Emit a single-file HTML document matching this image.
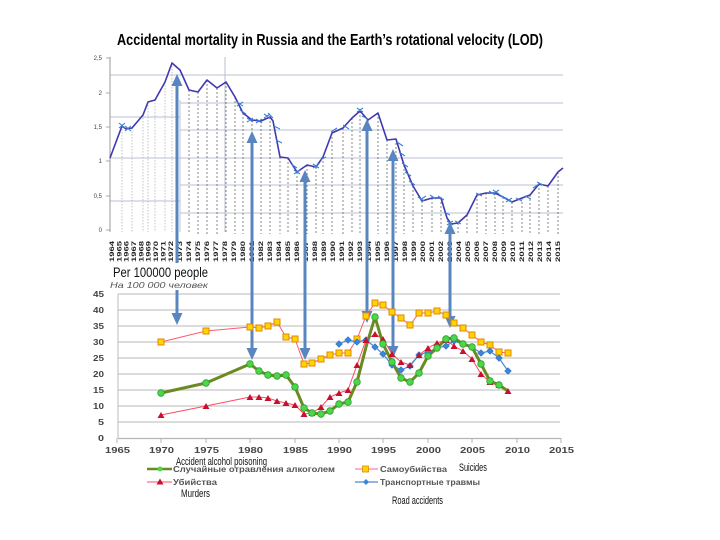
<!DOCTYPE html>
<html><head><meta charset="utf-8"><style>
html,body{margin:0;padding:0;background:#fff;}
svg{display:block;}
text{font-family:"Liberation Sans","DejaVu Sans",sans-serif;}
</style></head><body>
<svg width="720" height="540" viewBox="0 0 720 540" xmlns="http://www.w3.org/2000/svg">
<rect width="720" height="540" fill="#fff"/>
<text x="117" y="45" font-size="16" font-weight="bold" fill="#000" textLength="426" lengthAdjust="spacingAndGlyphs">Accidental mortality in Russia and the Earth’s rotational velocity (LOD)</text>
<g stroke="#b9c2d2" stroke-width="1" fill="none">
<line x1="110" y1="75" x2="563" y2="75"/><line x1="180" y1="103" x2="563" y2="103"/><line x1="110" y1="117" x2="180" y2="117"/><line x1="180" y1="130" x2="563" y2="130"/><line x1="110" y1="158" x2="563" y2="158"/><line x1="180" y1="185" x2="563" y2="185"/><line x1="110" y1="201" x2="180" y2="201"/><line x1="180" y1="213" x2="563" y2="213"/><line x1="225" y1="57" x2="225" y2="232"/><line x1="180" y1="100" x2="180" y2="232"/>
</g>
<line x1="110" y1="57" x2="110" y2="232" stroke="#999" stroke-width="1"/>
<g stroke="#999" stroke-width="0.8"><line x1="106" y1="58" x2="110" y2="58"/><line x1="106" y1="93" x2="110" y2="93"/><line x1="106" y1="127" x2="110" y2="127"/><line x1="106" y1="161" x2="110" y2="161"/><line x1="106" y1="196" x2="110" y2="196"/><line x1="106" y1="230" x2="110" y2="230"/></g>
<g font-size="6" fill="#444" text-anchor="end"><text x="102" y="60">2,5</text><text x="102" y="95">2</text><text x="102" y="129">1,5</text><text x="102" y="163">1</text><text x="102" y="198">0,5</text><text x="102" y="232">0</text></g>
<g stroke="#aaa" stroke-width="0.7" stroke-dasharray="1.5,1.5"><line x1="122" y1="126" x2="122" y2="232"/><line x1="132" y1="128" x2="132" y2="232"/><line x1="143" y1="115" x2="143" y2="232"/><line x1="148" y1="102" x2="148" y2="232"/><line x1="155" y1="100" x2="155" y2="232"/><line x1="165" y1="82" x2="165" y2="232"/><line x1="172" y1="63" x2="172" y2="232"/></g>
<g stroke="#555" stroke-width="0.7" stroke-dasharray="2,2"><line x1="189" y1="90" x2="189" y2="234"/><line x1="198" y1="92" x2="198" y2="234"/><line x1="207" y1="80" x2="207" y2="234"/><line x1="217" y1="88" x2="217" y2="234"/><line x1="226" y1="82" x2="226" y2="234"/><line x1="235" y1="97" x2="235" y2="234"/><line x1="243" y1="113" x2="243" y2="234"/><line x1="252" y1="120" x2="252" y2="234"/><line x1="261" y1="121" x2="261" y2="234"/><line x1="270" y1="117" x2="270" y2="234"/><line x1="280" y1="157" x2="280" y2="234"/><line x1="288" y1="158" x2="288" y2="234"/><line x1="297" y1="172" x2="297" y2="234"/><line x1="307" y1="165" x2="307" y2="234"/><line x1="316" y1="167" x2="316" y2="234"/><line x1="323" y1="157" x2="323" y2="234"/><line x1="332" y1="133" x2="332" y2="234"/><line x1="343" y1="128" x2="343" y2="234"/><line x1="352" y1="118" x2="352" y2="234"/><line x1="360" y1="111" x2="360" y2="234"/><line x1="368" y1="120" x2="368" y2="234"/><line x1="378" y1="113" x2="378" y2="234"/><line x1="387" y1="140" x2="387" y2="234"/><line x1="396" y1="139" x2="396" y2="234"/><line x1="404" y1="165" x2="404" y2="234"/><line x1="413" y1="186" x2="413" y2="234"/><line x1="422" y1="201" x2="422" y2="234"/><line x1="432" y1="198" x2="432" y2="234"/><line x1="441" y1="198" x2="441" y2="234"/><line x1="451" y1="224" x2="451" y2="234"/><line x1="458" y1="223" x2="458" y2="234"/><line x1="467" y1="215" x2="467" y2="234"/><line x1="477" y1="195" x2="477" y2="234"/><line x1="486" y1="193" x2="486" y2="234"/><line x1="495" y1="193" x2="495" y2="234"/><line x1="503" y1="197" x2="503" y2="234"/><line x1="512" y1="202" x2="512" y2="234"/><line x1="522" y1="198" x2="522" y2="234"/><line x1="530" y1="195" x2="530" y2="234"/><line x1="539" y1="184" x2="539" y2="234"/><line x1="548" y1="186" x2="548" y2="234"/><line x1="558" y1="172" x2="558" y2="234"/></g>
<polyline fill="none" stroke="#4038b0" stroke-width="1.6" stroke-linejoin="round" points="110,158 122,126 126,129 132,128 143,115 148,102 155,100 165,82 172,63 180,70 189,90 198,92 207,80 217,88 226,82 235,97 243,113 252,120 261,121 270,117 273,121 280,157 288,158 297,172 307,165 316,167 323,157 332,133 343,128 352,118 360,111 368,120 378,113 387,140 396,139 404,165 413,186 422,201 432,198 441,198 447,218 451,224 458,223 467,215 477,195 486,193 495,193 503,197 512,202 522,198 530,195 539,184 548,186 558,172 563,168"/>
<g stroke="#3b82d4" stroke-width="1.1"><path d="M119,123l6,5M119,128l6,-5M125,126l6,5M125,131l6,-5M237,102l6,4M237,106l6,-4M240,110l6,4M247,118l6,4M247,122l6,-4M256,119l6,4M256,123l6,-4M264,114l6,4M264,118l6,-4M268,113l5,5M274,126l6,3M276,140l6,3M291,164l6,4M294,170l6,4M294,174l6,-4M313,164l6,4M313,168l6,-4M320,160l6,-3M331,132l6,-4M343,125l6,4M357,108l6,4M357,112l6,-4M362,116l6,3M397,142l6,4M399,152l6,4M402,163l6,4M405,172l6,4M409,181l6,4M418,197l6,4M420,200l6,-4M430,195l6,4M438,196l6,4M444,212l6,3M447,221l6,4M447,225l6,-4M455,221l6,3M476,193l6,3M489,191l6,4M493,190l6,4M493,194l6,-4M500,195l6,4M506,198l6,4M506,202l6,-4M516,198l6,3M525,196l6,3M533,188l6,-4M537,182l6,3"/></g>
<g font-size="6.5" font-weight="bold" fill="#222">
<text transform="translate(114,262) rotate(-90)" textLength="21" lengthAdjust="spacingAndGlyphs">1964</text><text transform="translate(121.4,262) rotate(-90)" textLength="21" lengthAdjust="spacingAndGlyphs">1965</text><text transform="translate(128.7,262) rotate(-90)" textLength="21" lengthAdjust="spacingAndGlyphs">1966</text><text transform="translate(136,262) rotate(-90)" textLength="21" lengthAdjust="spacingAndGlyphs">1967</text><text transform="translate(143.4,262) rotate(-90)" textLength="21" lengthAdjust="spacingAndGlyphs">1968</text><text transform="translate(150.7,262) rotate(-90)" textLength="21" lengthAdjust="spacingAndGlyphs">1969</text><text transform="translate(158,262) rotate(-90)" textLength="21" lengthAdjust="spacingAndGlyphs">1970</text><text transform="translate(165.5,262) rotate(-90)" textLength="21" lengthAdjust="spacingAndGlyphs">1971</text><text transform="translate(172.8,262) rotate(-90)" textLength="21" lengthAdjust="spacingAndGlyphs">1972</text><text transform="translate(182,262) rotate(-90)" textLength="21" lengthAdjust="spacingAndGlyphs">1973</text><text transform="translate(191,262) rotate(-90)" textLength="21" lengthAdjust="spacingAndGlyphs">1974</text><text transform="translate(200,262) rotate(-90)" textLength="21" lengthAdjust="spacingAndGlyphs">1975</text><text transform="translate(209,262) rotate(-90)" textLength="21" lengthAdjust="spacingAndGlyphs">1976</text><text transform="translate(218,262) rotate(-90)" textLength="21" lengthAdjust="spacingAndGlyphs">1977</text><text transform="translate(227,262) rotate(-90)" textLength="21" lengthAdjust="spacingAndGlyphs">1978</text><text transform="translate(236,262) rotate(-90)" textLength="21" lengthAdjust="spacingAndGlyphs">1979</text><text transform="translate(245,262) rotate(-90)" textLength="21" lengthAdjust="spacingAndGlyphs">1980</text><text transform="translate(254,262) rotate(-90)" textLength="21" lengthAdjust="spacingAndGlyphs">1981</text><text transform="translate(263,262) rotate(-90)" textLength="21" lengthAdjust="spacingAndGlyphs">1982</text><text transform="translate(272,262) rotate(-90)" textLength="21" lengthAdjust="spacingAndGlyphs">1983</text><text transform="translate(281,262) rotate(-90)" textLength="21" lengthAdjust="spacingAndGlyphs">1984</text><text transform="translate(290,262) rotate(-90)" textLength="21" lengthAdjust="spacingAndGlyphs">1985</text><text transform="translate(299,262) rotate(-90)" textLength="21" lengthAdjust="spacingAndGlyphs">1986</text><text transform="translate(308,262) rotate(-90)" textLength="21" lengthAdjust="spacingAndGlyphs">1987</text><text transform="translate(317,262) rotate(-90)" textLength="21" lengthAdjust="spacingAndGlyphs">1988</text><text transform="translate(326,262) rotate(-90)" textLength="21" lengthAdjust="spacingAndGlyphs">1989</text><text transform="translate(335,262) rotate(-90)" textLength="21" lengthAdjust="spacingAndGlyphs">1990</text><text transform="translate(344,262) rotate(-90)" textLength="21" lengthAdjust="spacingAndGlyphs">1991</text><text transform="translate(353,262) rotate(-90)" textLength="21" lengthAdjust="spacingAndGlyphs">1992</text><text transform="translate(362,262) rotate(-90)" textLength="21" lengthAdjust="spacingAndGlyphs">1993</text><text transform="translate(371,262) rotate(-90)" textLength="21" lengthAdjust="spacingAndGlyphs">1994</text><text transform="translate(380,262) rotate(-90)" textLength="21" lengthAdjust="spacingAndGlyphs">1995</text><text transform="translate(389,262) rotate(-90)" textLength="21" lengthAdjust="spacingAndGlyphs">1996</text><text transform="translate(398,262) rotate(-90)" textLength="21" lengthAdjust="spacingAndGlyphs">1997</text><text transform="translate(407,262) rotate(-90)" textLength="21" lengthAdjust="spacingAndGlyphs">1998</text><text transform="translate(416,262) rotate(-90)" textLength="21" lengthAdjust="spacingAndGlyphs">1999</text><text transform="translate(425,262) rotate(-90)" textLength="21" lengthAdjust="spacingAndGlyphs">2000</text><text transform="translate(434,262) rotate(-90)" textLength="21" lengthAdjust="spacingAndGlyphs">2001</text><text transform="translate(443,262) rotate(-90)" textLength="21" lengthAdjust="spacingAndGlyphs">2002</text><text transform="translate(452,262) rotate(-90)" textLength="21" lengthAdjust="spacingAndGlyphs">2003</text><text transform="translate(461,262) rotate(-90)" textLength="21" lengthAdjust="spacingAndGlyphs">2004</text><text transform="translate(470,262) rotate(-90)" textLength="21" lengthAdjust="spacingAndGlyphs">2005</text><text transform="translate(479,262) rotate(-90)" textLength="21" lengthAdjust="spacingAndGlyphs">2006</text><text transform="translate(488,262) rotate(-90)" textLength="21" lengthAdjust="spacingAndGlyphs">2007</text><text transform="translate(497,262) rotate(-90)" textLength="21" lengthAdjust="spacingAndGlyphs">2008</text><text transform="translate(506,262) rotate(-90)" textLength="21" lengthAdjust="spacingAndGlyphs">2009</text><text transform="translate(515,262) rotate(-90)" textLength="21" lengthAdjust="spacingAndGlyphs">2010</text><text transform="translate(524,262) rotate(-90)" textLength="21" lengthAdjust="spacingAndGlyphs">2011</text><text transform="translate(533,262) rotate(-90)" textLength="21" lengthAdjust="spacingAndGlyphs">2012</text><text transform="translate(542,262) rotate(-90)" textLength="21" lengthAdjust="spacingAndGlyphs">2013</text><text transform="translate(551,262) rotate(-90)" textLength="21" lengthAdjust="spacingAndGlyphs">2014</text><text transform="translate(560,262) rotate(-90)" textLength="21" lengthAdjust="spacingAndGlyphs">2015</text>
</g>
<g stroke="#c8c8c8" stroke-width="1.3"><line x1="118" y1="294" x2="560" y2="294"/><line x1="118" y1="310" x2="560" y2="310"/><line x1="118" y1="326" x2="560" y2="326"/><line x1="118" y1="342" x2="560" y2="342"/><line x1="118" y1="358" x2="560" y2="358"/><line x1="118" y1="374" x2="560" y2="374"/><line x1="118" y1="390" x2="560" y2="390"/><line x1="118" y1="406" x2="560" y2="406"/><line x1="118" y1="422" x2="560" y2="422"/></g>
<line x1="118" y1="294" x2="118" y2="438" stroke="#bbb" stroke-width="1"/>
<line x1="118" y1="438.5" x2="561" y2="438.5" stroke="#b5b5b5" stroke-width="1.3"/>
<g stroke="#b5b5b5" stroke-width="1"><line x1="117" y1="438" x2="117" y2="443"/><line x1="161" y1="438" x2="161" y2="443"/><line x1="206" y1="438" x2="206" y2="443"/><line x1="250" y1="438" x2="250" y2="443"/><line x1="295" y1="438" x2="295" y2="443"/><line x1="339" y1="438" x2="339" y2="443"/><line x1="383" y1="438" x2="383" y2="443"/><line x1="428" y1="438" x2="428" y2="443"/><line x1="472" y1="438" x2="472" y2="443"/><line x1="517" y1="438" x2="517" y2="443"/><line x1="561" y1="438" x2="561" y2="443"/></g>
<g font-size="8" font-weight="bold" fill="#444" text-anchor="end"><text x="104" y="297" textLength="11" lengthAdjust="spacingAndGlyphs">45</text><text x="104" y="313" textLength="11" lengthAdjust="spacingAndGlyphs">40</text><text x="104" y="329" textLength="11" lengthAdjust="spacingAndGlyphs">35</text><text x="104" y="345" textLength="11" lengthAdjust="spacingAndGlyphs">30</text><text x="104" y="361" textLength="11" lengthAdjust="spacingAndGlyphs">25</text><text x="104" y="377" textLength="11" lengthAdjust="spacingAndGlyphs">20</text><text x="104" y="393" textLength="11" lengthAdjust="spacingAndGlyphs">15</text><text x="104" y="409" textLength="11" lengthAdjust="spacingAndGlyphs">10</text><text x="104" y="425" textLength="6" lengthAdjust="spacingAndGlyphs">5</text><text x="104" y="441" textLength="6" lengthAdjust="spacingAndGlyphs">0</text></g>
<g font-size="8" font-weight="bold" fill="#444"><text x="105" y="453" textLength="25" lengthAdjust="spacingAndGlyphs">1965</text><text x="149" y="453" textLength="25" lengthAdjust="spacingAndGlyphs">1970</text><text x="194" y="453" textLength="25" lengthAdjust="spacingAndGlyphs">1975</text><text x="238" y="453" textLength="25" lengthAdjust="spacingAndGlyphs">1980</text><text x="283" y="453" textLength="25" lengthAdjust="spacingAndGlyphs">1985</text><text x="327" y="453" textLength="25" lengthAdjust="spacingAndGlyphs">1990</text><text x="371" y="453" textLength="25" lengthAdjust="spacingAndGlyphs">1995</text><text x="416" y="453" textLength="25" lengthAdjust="spacingAndGlyphs">2000</text><text x="460" y="453" textLength="25" lengthAdjust="spacingAndGlyphs">2005</text><text x="505" y="453" textLength="25" lengthAdjust="spacingAndGlyphs">2010</text><text x="549" y="453" textLength="25" lengthAdjust="spacingAndGlyphs">2015</text></g>
<g fill="#5a86bf" stroke="none">
<rect x="175.5" y="83" width="3" height="231"/><polygon points="177,74 171.5,86 182.5,86"/><polygon points="177,325 171.5,313 182.5,313"/>
<rect x="250.5" y="140" width="3" height="210"/><polygon points="252,131 246.5,143 257.5,143"/><polygon points="252,360 246.5,348 257.5,348"/>
<rect x="303.5" y="179" width="3" height="171"/><polygon points="305,170 299.5,182 310.5,182"/><polygon points="305,360 299.5,348 310.5,348"/>
<rect x="365.5" y="128" width="3" height="184"/><polygon points="367,119 361.5,131 372.5,131"/><polygon points="367,323 361.5,311 372.5,311"/>
<rect x="391.5" y="158" width="3" height="189"/><polygon points="393,149 387.5,161 398.5,161"/><polygon points="393,358 387.5,346 398.5,346"/>
<rect x="448.5" y="231" width="3" height="86"/><polygon points="450,222 444.5,234 455.5,234"/><polygon points="450,328 444.5,316 455.5,316"/>
</g>
<rect x="110" y="263" width="100" height="27" fill="#fff"/>
<text x="113" y="277" font-size="14" fill="#111" textLength="95" lengthAdjust="spacingAndGlyphs">Per 100000 people</text>
<text x="110" y="288" font-size="8" font-style="italic" fill="#555" textLength="98" lengthAdjust="spacingAndGlyphs">На 100 000 человек</text>
<polyline fill="none" stroke="#ff5a6e" stroke-width="1" points="161,342 206,331 250,327 259,328 268,326 277,322 286,337 295,339 304,364 312,363 321,359 330,355 339,353 348,353 357,339 366,316 375,303 383,305 392,312 401,318 410,325 419,313 428,313 437,311 446,315 454,323 463,328 472,335 481,342 490,345 499,352 508,353"/>
<polyline fill="none" stroke="#ff4a64" stroke-width="1" points="161,415 206,406 250,397 259,397 268,398 277,401 286,403 295,405 304,414 312,413 321,407 330,397 339,393 348,390 357,365 366,340 375,334 383,339 392,354 401,362 410,365 419,355 428,348 437,343 446,340 454,346 463,351 472,359 481,374 490,382 499,385 508,391"/>
<polyline fill="none" stroke="#4a8ad4" stroke-width="1.2" points="339,344 348,340 357,342 366,340 375,347 383,354 392,365 401,370 410,366 419,355 428,352 437,348 446,346 454,341 463,344 472,347 481,353 490,351 499,358 508,371"/>
<polyline fill="none" stroke="#6b8a22" stroke-width="3" stroke-linejoin="round" points="161,393 206,383 250,364 259,371 268,375 277,376 286,375 295,387 304,408 312,413 321,414 330,411 339,404 348,402 357,382 366,347 375,317 383,344 392,362 401,378 410,382 419,373 428,356 437,348 446,339 454,338 463,344 472,347 481,364 490,381 499,385 508,391"/>
<g fill="#ffd400" stroke="#e08a00" stroke-width="1">
<rect x="158" y="339" width="6" height="6"/><rect x="203" y="328" width="6" height="6"/><rect x="247" y="324" width="6" height="6"/><rect x="256" y="325" width="6" height="6"/><rect x="265" y="323" width="6" height="6"/><rect x="274" y="319" width="6" height="6"/><rect x="283" y="334" width="6" height="6"/><rect x="292" y="336" width="6" height="6"/><rect x="301" y="361" width="6" height="6"/><rect x="309" y="360" width="6" height="6"/><rect x="318" y="356" width="6" height="6"/><rect x="327" y="352" width="6" height="6"/><rect x="336" y="350" width="6" height="6"/><rect x="345" y="350" width="6" height="6"/><rect x="354" y="336" width="6" height="6"/><rect x="363" y="313" width="6" height="6"/><rect x="372" y="300" width="6" height="6"/><rect x="380" y="302" width="6" height="6"/><rect x="389" y="309" width="6" height="6"/><rect x="398" y="315" width="6" height="6"/><rect x="407" y="322" width="6" height="6"/><rect x="416" y="310" width="6" height="6"/><rect x="425" y="310" width="6" height="6"/><rect x="434" y="308" width="6" height="6"/><rect x="443" y="312" width="6" height="6"/><rect x="451" y="320" width="6" height="6"/><rect x="460" y="325" width="6" height="6"/><rect x="469" y="332" width="6" height="6"/><rect x="478" y="339" width="6" height="6"/><rect x="487" y="342" width="6" height="6"/><rect x="496" y="349" width="6" height="6"/><rect x="505" y="350" width="6" height="6"/>
</g>
<g fill="#3d85d8" stroke="#2f6fb8" stroke-width="0.5">
<polygon points="339,340.5 342.5,344 339,347.5 335.5,344"/><polygon points="348,336.5 351.5,340 348,343.5 344.5,340"/><polygon points="357,338.5 360.5,342 357,345.5 353.5,342"/><polygon points="366,336.5 369.5,340 366,343.5 362.5,340"/><polygon points="375,343.5 378.5,347 375,350.5 371.5,347"/><polygon points="383,350.5 386.5,354 383,357.5 379.5,354"/><polygon points="392,361.5 395.5,365 392,368.5 388.5,365"/><polygon points="401,366.5 404.5,370 401,373.5 397.5,370"/><polygon points="410,362.5 413.5,366 410,369.5 406.5,366"/><polygon points="419,351.5 422.5,355 419,358.5 415.5,355"/><polygon points="428,348.5 431.5,352 428,355.5 424.5,352"/><polygon points="437,344.5 440.5,348 437,351.5 433.5,348"/><polygon points="446,342.5 449.5,346 446,349.5 442.5,346"/><polygon points="454,337.5 457.5,341 454,344.5 450.5,341"/><polygon points="463,340.5 466.5,344 463,347.5 459.5,344"/><polygon points="472,343.5 475.5,347 472,350.5 468.5,347"/><polygon points="481,349.5 484.5,353 481,356.5 477.5,353"/><polygon points="490,347.5 493.5,351 490,354.5 486.5,351"/><polygon points="499,354.5 502.5,358 499,361.5 495.5,358"/><polygon points="508,367.5 511.5,371 508,374.5 504.5,371"/>
</g>
<g fill="#c8102e">
<polygon points="161,412 164.5,418 157.5,418"/><polygon points="206,403 209.5,409 202.5,409"/><polygon points="250,394 253.5,400 246.5,400"/><polygon points="259,394 262.5,400 255.5,400"/><polygon points="268,395 271.5,401 264.5,401"/><polygon points="277,398 280.5,404 273.5,404"/><polygon points="286,400 289.5,406 282.5,406"/><polygon points="295,402 298.5,408 291.5,408"/><polygon points="304,411 307.5,417 300.5,417"/><polygon points="312,410 315.5,416 308.5,416"/><polygon points="321,404 324.5,410 317.5,410"/><polygon points="330,394 333.5,400 326.5,400"/><polygon points="339,390 342.5,396 335.5,396"/><polygon points="348,387 351.5,393 344.5,393"/><polygon points="357,362 360.5,368 353.5,368"/><polygon points="366,337 369.5,343 362.5,343"/><polygon points="375,331 378.5,337 371.5,337"/><polygon points="383,336 386.5,342 379.5,342"/><polygon points="392,351 395.5,357 388.5,357"/><polygon points="401,359 404.5,365 397.5,365"/><polygon points="410,362 413.5,368 406.5,368"/><polygon points="419,352 422.5,358 415.5,358"/><polygon points="428,345 431.5,351 424.5,351"/><polygon points="437,340 440.5,346 433.5,346"/><polygon points="446,337 449.5,343 442.5,343"/><polygon points="454,343 457.5,349 450.5,349"/><polygon points="463,348 466.5,354 459.5,354"/><polygon points="472,356 475.5,362 468.5,362"/><polygon points="481,371 484.5,377 477.5,377"/><polygon points="490,379 493.5,385 486.5,385"/><polygon points="499,382 502.5,388 495.5,388"/><polygon points="508,388 511.5,394 504.5,394"/>
</g>
<g fill="#4ad84a" stroke="#2e9e2e" stroke-width="0.8">
<circle cx="161" cy="393" r="3.3"/><circle cx="206" cy="383" r="3.3"/><circle cx="250" cy="364" r="3.3"/><circle cx="259" cy="371" r="3.3"/><circle cx="268" cy="375" r="3.3"/><circle cx="277" cy="376" r="3.3"/><circle cx="286" cy="375" r="3.3"/><circle cx="295" cy="387" r="3.3"/><circle cx="304" cy="408" r="3.3"/><circle cx="312" cy="413" r="3.3"/><circle cx="321" cy="414" r="3.3"/><circle cx="330" cy="411" r="3.3"/><circle cx="339" cy="404" r="3.3"/><circle cx="348" cy="402" r="3.3"/><circle cx="357" cy="382" r="3.3"/><circle cx="375" cy="317" r="3.3"/><circle cx="383" cy="344" r="3.3"/><circle cx="392" cy="362" r="3.3"/><circle cx="410" cy="382" r="3.3"/><circle cx="401" cy="378" r="3.3"/><circle cx="419" cy="373" r="3.3"/><circle cx="428" cy="356" r="3.3"/><circle cx="437" cy="348" r="3.3"/><circle cx="446" cy="339" r="3.3"/><circle cx="454" cy="338" r="3.3"/><circle cx="463" cy="344" r="3.3"/><circle cx="472" cy="347" r="3.3"/><circle cx="481" cy="364" r="3.3"/><circle cx="490" cy="381" r="3.3"/><circle cx="499" cy="385" r="3.3"/>
</g>
<text x="176" y="465" font-size="11" fill="#111" textLength="91" lengthAdjust="spacingAndGlyphs">Accident alcohol poisoning</text>
<line x1="147" y1="469" x2="172" y2="469" stroke="#6b8a22" stroke-width="2.5"/><circle cx="160" cy="469" r="2.5" fill="#4ad84a"/>
<text x="173" y="472" font-size="8" font-weight="bold" fill="#555" textLength="162" lengthAdjust="spacingAndGlyphs">Случайные отравления алкоголем</text>
<line x1="147" y1="482" x2="172" y2="482" stroke="#ff4a64" stroke-width="1"/><polygon points="160,478.5 163.5,484.5 156.5,484.5" fill="#c8102e"/>
<text x="173" y="485" font-size="8" font-weight="bold" fill="#555" textLength="44" lengthAdjust="spacingAndGlyphs">Убийства</text>
<text x="181" y="497" font-size="11" fill="#111" textLength="29" lengthAdjust="spacingAndGlyphs">Murders</text>
<line x1="355" y1="469" x2="378" y2="469" stroke="#ff80b0" stroke-width="1.2"/><rect x="362.5" y="466" width="6" height="6" fill="#ffd400" stroke="#e08a00" stroke-width="0.8"/>
<text x="380" y="472" font-size="8" font-weight="bold" fill="#555" textLength="67" lengthAdjust="spacingAndGlyphs">Самоубийства</text>
<text x="459" y="471" font-size="11" fill="#111" textLength="28" lengthAdjust="spacingAndGlyphs">Suicides</text>
<line x1="355" y1="482" x2="378" y2="482" stroke="#4a8ad4" stroke-width="1.2"/><polygon points="366,479 369,482 366,485 363,482" fill="#3d85d8"/>
<text x="380" y="485" font-size="8" font-weight="bold" fill="#555" textLength="100" lengthAdjust="spacingAndGlyphs">Транспортные травмы</text>
<text x="392" y="504" font-size="11" fill="#111" textLength="51" lengthAdjust="spacingAndGlyphs">Road accidents</text>
</svg>
</body></html>
